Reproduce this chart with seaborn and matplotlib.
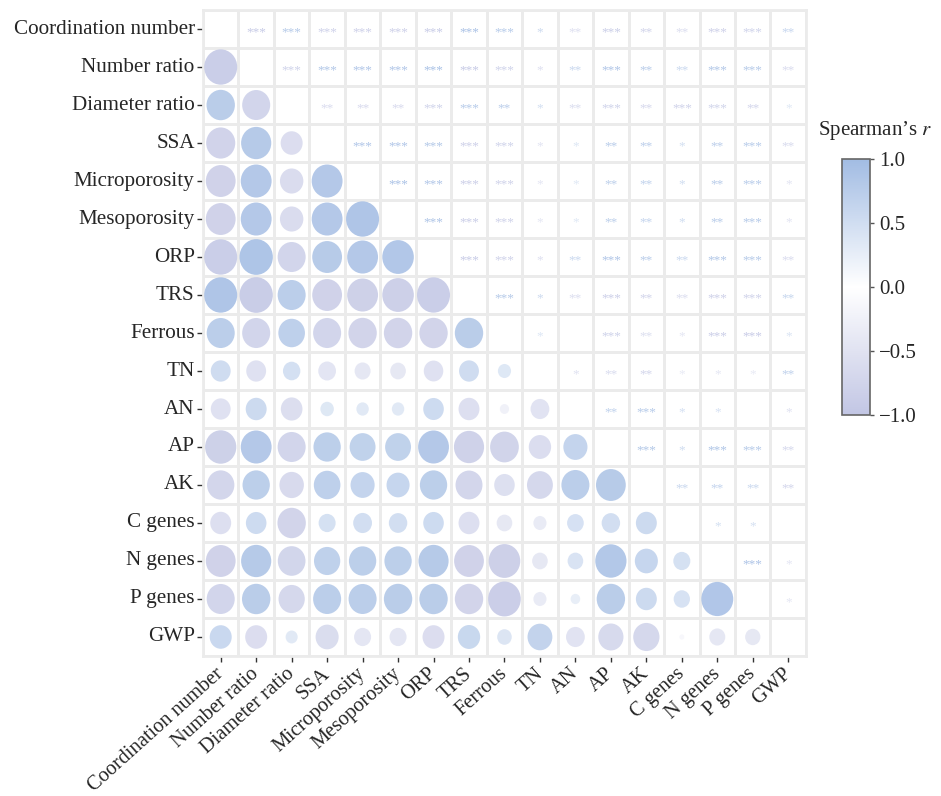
import numpy as np
import pandas as pd
import matplotlib
matplotlib.use("Agg")
import matplotlib.pyplot as plt
import matplotlib.transforms as mtransforms
import seaborn as sns
from matplotlib.patches import Ellipse
from matplotlib.colors import LinearSegmentedColormap, ListedColormap, Normalize
from matplotlib.cm import ScalarMappable

# Variables (rows top to bottom, columns left to right)
variables = ["Coordination number", "Number ratio", "Diameter ratio", "SSA",
             "Microporosity", "Mesoporosity", "ORP", "TRS", "Ferrous", "TN",
             "AN", "AP", "AK", "C genes", "N genes", "P genes", "GWP"]

# Spearman's r, lower triangle: row i holds r with columns 0..i-1
r_row_number_ratio = [-0.93]
r_row_diameter_ratio = [0.80, -0.79]
r_row_ssa = [-0.82, 0.85, -0.62]
r_row_microporosity = [-0.84, 0.87, -0.66, 0.87]
r_row_mesoporosity = [-0.84, 0.87, -0.66, 0.87, 0.93]
r_row_orp = [-0.93, 0.94, -0.79, 0.84, 0.87, 0.89]
r_row_trs = [0.93, -0.94, 0.79, -0.84, -0.87, -0.89, -0.93]
r_row_ferrous = [0.79, -0.79, 0.75, -0.79, -0.80, -0.80, -0.80, 0.80]
r_row_tn = [0.56, -0.56, 0.49, -0.50, -0.45, -0.44, -0.55, 0.56, 0.37]
r_row_an = [-0.56, 0.59, -0.61, 0.38, 0.35, 0.35, 0.58, -0.59, -0.26, -0.53]
r_row_ap = [-0.88, 0.87, -0.79, 0.77, 0.73, 0.73, 0.87, -0.85, -0.81, -0.63, 0.68]
r_row_ak = [-0.77, 0.77, -0.69, 0.75, 0.68, 0.65, 0.77, -0.76, -0.58, -0.73, 0.79, 0.84]
r_row_c_genes = [-0.59, 0.58, -0.80, 0.48, 0.53, 0.52, 0.58, -0.59, -0.44, -0.37, 0.47, 0.52, 0.59]
r_row_n_genes = [-0.84, 0.85, -0.78, 0.74, 0.77, 0.77, 0.85, -0.84, -0.89, -0.44, 0.44, 0.88, 0.65, 0.48]
r_row_p_genes = [-0.79, 0.80, -0.74, 0.79, 0.79, 0.80, 0.80, -0.80, -0.92, -0.37, 0.27, 0.80, 0.59, 0.46, 0.90]
r_row_gwp = [0.62, -0.62, 0.34, -0.65, -0.48, -0.48, -0.62, 0.63, 0.41, 0.70, -0.53, -0.71, -0.74, -0.14, -0.45, -0.43]

lower_r = [r_row_number_ratio, r_row_diameter_ratio, r_row_ssa, r_row_microporosity,
           r_row_mesoporosity, r_row_orp, r_row_trs, r_row_ferrous, r_row_tn, r_row_an,
           r_row_ap, r_row_ak, r_row_c_genes, r_row_n_genes, r_row_p_genes, r_row_gwp]

# Significance marks, upper triangle: row i holds columns i+1..16
sig_coordination = ["***", "***", "***", "***", "***", "***", "***", "***", "*", "**", "***", "**", "**", "***", "***", "**"]
sig_number_ratio = ["***", "***", "***", "***", "***", "***", "***", "*", "**", "***", "**", "**", "***", "***", "**"]
sig_diameter_ratio = ["**", "**", "**", "***", "***", "**", "*", "**", "***", "**", "***", "***", "**", "*"]
sig_ssa = ["***", "***", "***", "***", "***", "*", "*", "**", "**", "*", "**", "***", "**"]
sig_microporosity = ["***", "***", "***", "***", "*", "*", "**", "**", "*", "**", "***", "*"]
sig_mesoporosity = ["***", "***", "***", "*", "*", "**", "**", "*", "**", "***", "*"]
sig_orp = ["***", "***", "*", "**", "***", "**", "**", "***", "***", "**"]
sig_trs = ["***", "*", "**", "***", "**", "**", "***", "***", "**"]
sig_ferrous = ["*", "", "***", "**", "*", "***", "***", "*"]
sig_tn = ["*", "**", "**", "*", "*", "*", "**"]
sig_an = ["**", "***", "*", "*", "", "*"]
sig_ap = ["***", "*", "***", "***", "**"]
sig_ak = ["**", "**", "**", "**"]
sig_c_genes = ["*", "*", ""]
sig_n_genes = ["***", "*"]
sig_p_genes = ["*"]

upper_sig = [sig_coordination, sig_number_ratio, sig_diameter_ratio, sig_ssa,
             sig_microporosity, sig_mesoporosity, sig_orp, sig_trs, sig_ferrous,
             sig_tn, sig_an, sig_ap, sig_ak, sig_c_genes, sig_n_genes, sig_p_genes]

# Symmetric correlation matrix
n = len(variables)
r = np.eye(n)
for i, row in enumerate(lower_r, start=1):
    for j, v in enumerate(row):
        r[i, j] = v
        r[j, i] = v

sns.set_theme(style="white")
plt.rcParams["font.family"] = ["Liberation Serif", "DejaVu Serif"]
plt.rcParams["mathtext.fontset"] = "stix"

cmap = LinearSegmentedColormap.from_list("spearman", ["#c2c6e4", "#ffffff", "#a2bce3"])
norm = Normalize(vmin=-1, vmax=1)

fig = plt.figure(figsize=(9.41, 7.96), dpi=100)
ax = fig.add_axes([0.2157, 0.1759, 0.6408, 0.8115])

# Blank grid with light separators
grid_df = pd.DataFrame(np.zeros((n, n)), index=variables, columns=variables)
sns.heatmap(grid_df, ax=ax, cmap=ListedColormap(["white"]), cbar=False,
            linewidths=2, linecolor="#ebebeb",
            xticklabels=variables, yticklabels=variables)

# Lower triangle: circles sized and coloured by r
for i in range(n):
    for j in range(i):
        v = r[i, j]
        ax.add_patch(Ellipse((j + 0.5, i + 0.5), abs(v), abs(v),
                             facecolor=cmap(norm(v)), edgecolor="none",
                             alpha=0.92, zorder=3))

# Upper triangle: significance stars
for i, row in enumerate(upper_sig):
    for k, s in enumerate(row):
        j = i + 1 + k
        if s:
            ax.text(j + 0.5, i + 0.58, s, ha="center", va="center",
                    fontsize=9.5, color=cmap(norm(r[i, j])), zorder=4)

for side in ["top", "bottom", "left", "right"]:
    ax.spines[side].set_visible(True)
    ax.spines[side].set_color("#ebebeb")
    ax.spines[side].set_linewidth(2)

ax.tick_params(axis="both", which="major", length=4, width=1, color="#333333",
               bottom=True, left=True, pad=2)
ax.tick_params(axis="y", labelsize=15.2)
ax.tick_params(axis="x", labelsize=14.7)
shift = mtransforms.ScaledTranslation(-0.06, 0, fig.dpi_scale_trans)
for lbl in ax.get_xticklabels():
    lbl.set_rotation(42)
    lbl.set_ha("right")
    lbl.set_va("top")
    lbl.set_rotation_mode("anchor")
    lbl.set_transform(lbl.get_transform() + shift)
plt.setp(ax.get_yticklabels(), rotation=0)

# Colour bar
cax = fig.add_axes([0.8948, 0.4786, 0.0298, 0.3216])
cb = fig.colorbar(ScalarMappable(norm=norm, cmap=cmap), cax=cax)
cb.set_ticks([-1.0, -0.5, 0.0, 0.5, 1.0])
cb.ax.tick_params(labelsize=15, length=3, width=1, color="#555555", right=True)
cb.outline.set_edgecolor("#666666")
cb.outline.set_linewidth(1.2)
fig.text(0.93, 1 - 130 / 796, "Spearman’s $r$", ha="center", va="center", fontsize=15)

fig.savefig("out.png", dpi=100)
